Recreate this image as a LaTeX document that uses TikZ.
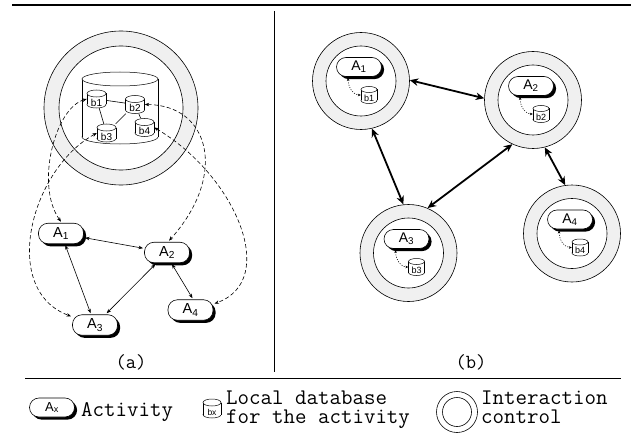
\documentclass[tikz,border=0pt]{standalone}
\usepackage{fontspec}
\newfontfamily\arialf{Liberation Sans}
\usetikzlibrary{arrows.meta,shadows}
\tikzset{
  act/.style={draw, fill=white, line width=0.6pt, rounded corners=9.5pt,
    minimum width=45pt, minimum height=20.5pt, inner sep=0pt, outer sep=1.5pt,
    font=\arialf\fontsize{14.5}{14.5}\selectfont,
    drop shadow={shadow xshift=2.6pt, shadow yshift=-2.6pt, fill=black, opacity=1}},
  ring/.style={circle, draw, line width=0.6pt, fill=black!6, inner sep=0pt, minimum size=97pt},
  innerring/.style={circle, draw, line width=0.6pt, fill=white, inner sep=0pt, minimum size=70pt},
  dblabel/.style={inner sep=0pt, font=\arialf\fontsize{9}{9}\selectfont},
  cylline/.style={line width=0.5pt},
  thinline/.style={line width=0.6pt},
  solarr/.style={line width=0.6pt, arrows={Stealth[length=4.5pt,width=3.5pt]-Stealth[length=4.5pt,width=3.5pt]}},
  dasharr/.style={line width=0.6pt, dash pattern=on 4pt off 2.5pt,
    arrows={Stealth[length=4.5pt,width=3.5pt]-Stealth[length=4.5pt,width=3.5pt]}},
  dotarr/.style={line width=0.55pt, dash pattern=on 1pt off 1.5pt,
    arrows={Stealth[length=3pt,width=2.6pt]-Stealth[length=3pt,width=2.6pt]}},
  thickarr/.style={line width=1.8pt, arrows={Stealth[length=8.5pt,width=7.5pt]-Stealth[length=8.5pt,width=7.5pt]}},
  legtext/.style={inner sep=0pt, font=\ttfamily\fontsize{22.3}{19}\selectfont},
  panelcap/.style={inner sep=0pt, font=\ttfamily\fontsize{20}{20}\selectfont}
}
% cylinder: name, cx, cy, width, height, ry, label
\newcommand\dbcyl[7]{%
  \begin{scope}[shift={(#2,#3)}]
    \filldraw[cylline, fill=white] (0,{#5/2-#6}) ellipse ({#4/2} and {#6});
    \fill[white] ({-#4/2},{-#5/2+#6}) rectangle ({#4/2},{#5/2-#6});
    \draw[cylline] ({-#4/2},{-#5/2+#6}) -- ({-#4/2},{#5/2-#6})
                   ({#4/2},{-#5/2+#6}) -- ({#4/2},{#5/2-#6});
    \filldraw[cylline, fill=white] (0,{-#5/2+#6}) ellipse ({#4/2} and {#6});
    \node[inner sep=0pt, minimum width=#4, minimum height=#5] (#1) at (0,0) {};
    \node[dblabel] at (0,{#6}) {#7};
  \end{scope}}
% interaction unit of panel (b): index, cx, cy
\newcommand\unitb[3]{%
  \node[ring] (C#1) at (#2,#3) {};
  \node[innerring] (I#1) at (#2,#3) {};
  \node[act, minimum height=19pt, rounded corners=9.5pt,
        font=\arialf\fontsize{14}{14}\selectfont] (bA#1) at ({#2-2},{#3-14}) {A\textsubscript{#1}};
  \dbcyl{bb#1}{#2+8}{#3+14}{16}{17}{3}{b#1}
  \draw[dotarr] ([xshift=-11pt]bA#1.south) .. controls +(0.5,11) and +(-7,0) .. (bb#1.west);
}
\begin{document}
\begin{tikzpicture}[x=1pt,y=-1pt]
\useasboundingbox (0,0) rectangle (631,433);
% frame lines
\coordinate (tl) at (12,5); \coordinate (tr) at (631,5);
\draw[line width=2.4pt] (tl) -- (tr);
\coordinate (vt) at (274,11); \coordinate (vb) at (274,372);
\draw[line width=0.7pt] (vt) -- (vb);
\coordinate (bl) at (25,378); \coordinate (br) at (621,378);
\draw[line width=0.7pt] (bl) -- (br);

% ---------- panel (a)
\node[ring, minimum size=154pt] (aC) at (121,108) {};
\node[innerring, minimum size=124pt] (aI) at (121,108) {};
\dbcyl{bigdb}{120}{108}{76}{72}{7}{}
\dbcyl{ab1}{96.5}{99}{19}{18}{3.5}{\fontsize{10}{10}\selectfont b1}
\dbcyl{ab2}{135}{104.5}{19}{18}{3.5}{\fontsize{10}{10}\selectfont b2}
\dbcyl{ab3}{106.5}{133}{19}{18}{3.5}{\fontsize{10}{10}\selectfont b3}
\dbcyl{ab4}{144.5}{127.5}{19}{18}{3.5}{\fontsize{10}{10}\selectfont b4}
\draw[thinline] (ab1) -- (ab2);
\draw[thinline] (ab1) -- (ab3);
\draw[thinline] (ab2) -- (ab3);
\draw[thinline] (ab2) -- (ab4);

\node[act] (aA1) at (61,233.5) {A\textsubscript{1}};
\node[act] (aA2) at (167,252.5) {A\textsubscript{2}};
\node[act] (aA3) at (95,325) {A\textsubscript{3}};
\node[act] (aA4) at (190.5,310) {A\textsubscript{4}};

\draw[solarr] (aA1) -- (aA2);
\draw[solarr] (aA1) -- (aA3);
\draw[solarr] (aA2) -- (aA3);
\draw[solarr] ([xshift=5pt]aA2.south) -- ([xshift=2pt]aA4.north);

\draw[dasharr] (ab1.west) .. controls (55,108) and (35,185) .. (aA1.north);
\draw[dasharr] (ab3.west) .. controls (30,170) and (0,290) .. (aA3.160);
\draw[dasharr] (ab2.east) .. controls (210,105) and (228,175) .. ([xshift=2pt]aA2.north);
\draw[dasharr] (ab4.east) .. controls (235,175) and (280,280) .. (aA4.15);

\node[panelcap] (capa) at (131,362) {(a)};

% ---------- panel (b)
\unitb{1}{361}{81}
\unitb{2}{533}{100}
\unitb{3}{408.5}{253}
\unitb{4}{572}{233.5}
\draw[thickarr] (C1.1) -- (C2.178);
\draw[thickarr] (C1.-77) -- (C3.96);
\draw[thickarr] (C2.245) -- (C3.67);
\draw[thickarr] (C2.-76) -- (C4.98);

\node[panelcap] (capb) at (471,362) {(b)};

% ---------- legend
\node[act, minimum height=19pt, font=\arialf\fontsize{13}{13}\selectfont] (lA) at (52,407.5) {A\textsubscript{x}};
\node[legtext, anchor=base west] (lt1) at (81,416.5) {Activity};
\dbcyl{lb}{212}{408.5}{18}{19}{3.5}{\fontsize{8.5}{8.5}\selectfont bx}
\node[legtext, align=left, anchor=north west] (lt2) at (226,391) {Local database\\for the activity};
\node[circle, draw, line width=0.6pt, minimum size=41pt, inner sep=0pt] (lC) at (457,412) {};
\node[circle, draw, line width=0.6pt, minimum size=29pt, inner sep=0pt] (lI) at (457,412) {};
\node[legtext, align=left, anchor=north west] (lt4) at (481,391) {Interaction\\control};
\end{tikzpicture}
\end{document}
